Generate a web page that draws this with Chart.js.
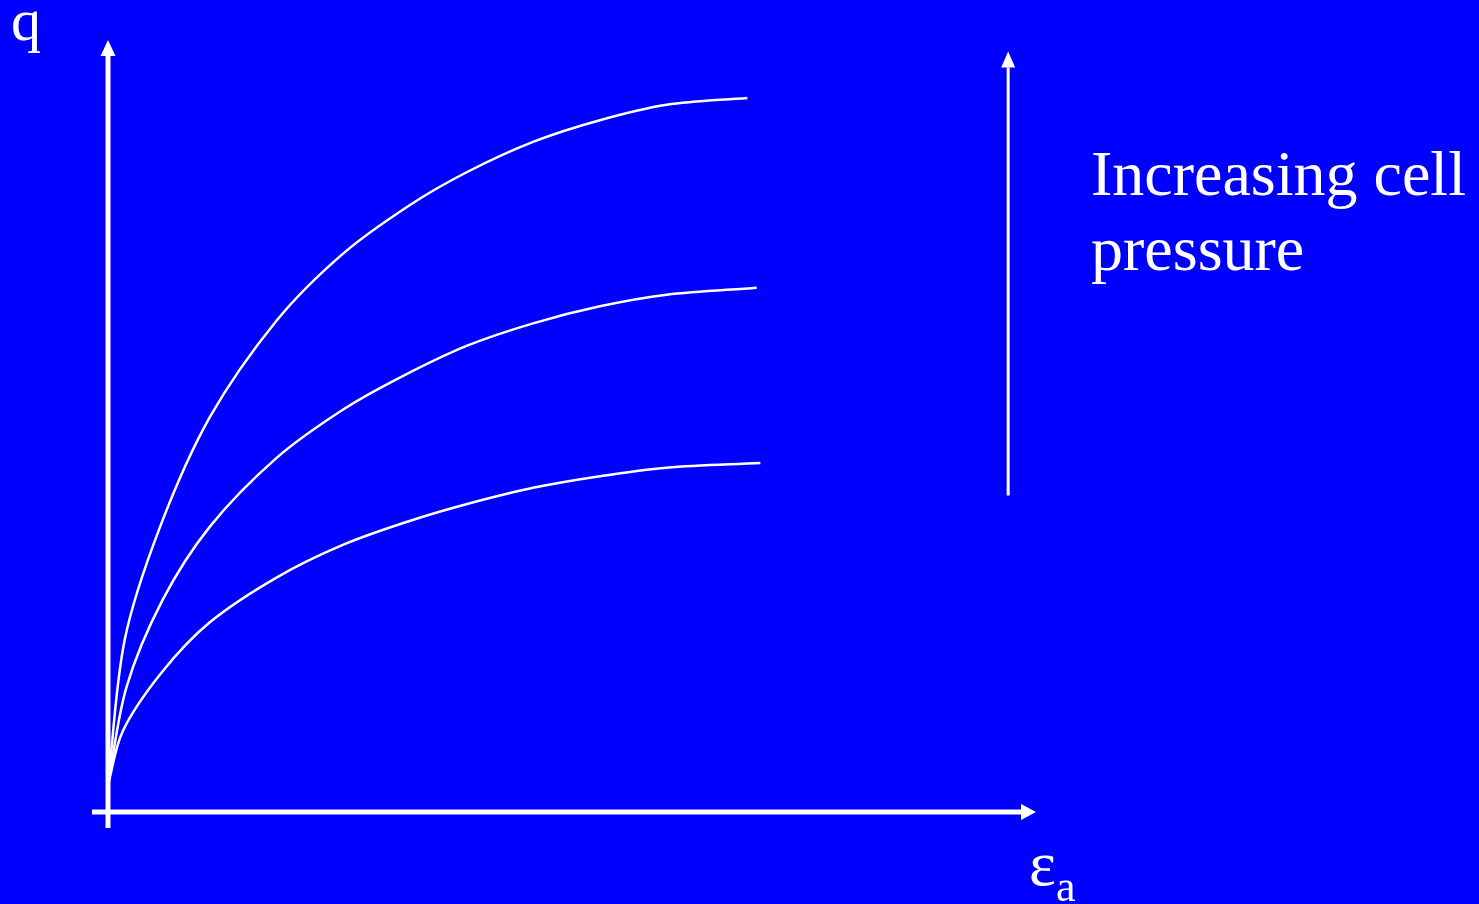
<!DOCTYPE html>
<html>
<head>
  <title>Deviator stress vs axial strain</title>
  <style>
    html, body { margin: 0; padding: 0; background: #0000ff; overflow: hidden; }
    #wrap { position: relative; width: 1479px; height: 904px; }
    canvas { position: absolute; left: 0; top: 0; }
    .lbl { position: absolute; color: #fff; font-family: "Liberation Serif", "Times New Roman", serif; white-space: nowrap; }
    #qLabel { left: 11px; top: -10px; font-size: 60px; line-height: 60px; }
    #epsLabel { left: 1029px; top: 832px; font-size: 64px; line-height: 64px; }
    #epsLabel sub { font-size: 44px; vertical-align: -16px; line-height: 44px; }
    #note { left: 1091px; top: 136px; font-size: 64px; line-height: 75px; }
  </style>
</head>
<body>
  <div id="wrap">
    <canvas id="curveChart" width="1479" height="904"></canvas>
    <div class="lbl" id="qLabel">q</div>
    <div class="lbl" id="epsLabel">ε<sub>a</sub></div>
    <div class="lbl" id="note">Increasing cell<br>pressure</div>
  </div>

  <script src="https://cdn.jsdelivr.net/npm/chart.js"></script>
  <script>
    // axial strain / deviator stress, three cell pressures (high -> low)
    const strainHigh = [0, 0.18, 0.56, 1.10, 1.82, 2.53, 3.25, 3.87, 4.58, 5.30, 6.02, 6.89];
    const qHigh      = [0.35, 2.23, 3.69, 5.12, 6.37, 7.23, 7.86, 8.29, 8.68, 8.96, 9.16, 9.25];

    const strainMid = [0, 0.20, 0.59, 1.10, 1.82, 2.53, 3.15, 3.87, 4.58, 5.30, 6.02, 6.99];
    const qMid      = [0.35, 1.62, 2.75, 3.70, 4.59, 5.21, 5.63, 6.04, 6.33, 6.55, 6.70, 6.79];

    const strainLow = [0, 0.16, 0.58, 1.10, 1.82, 2.53, 3.25, 3.87, 4.58, 5.30, 6.02, 7.03];
    const qLow      = [0.35, 1.05, 1.81, 2.46, 3.04, 3.46, 3.77, 3.99, 4.20, 4.35, 4.46, 4.52];

    // "increasing cell pressure" arrow
    const arrowX = 9.7;
    const arrowY = [4.1, 9.85];

    const axisMax = 10;

    function toPoints(xs, ys) {
      return xs.map((x, i) => ({ x: x, y: ys[i] }));
    }

    function drawArrow(ctx, x1, y1, x2, y2, width, headLen, headHalf) {
      const ang = Math.atan2(y2 - y1, x2 - x1);
      const bx = x2 - headLen * Math.cos(ang);
      const by = y2 - headLen * Math.sin(ang);
      ctx.strokeStyle = "#fff";
      ctx.fillStyle = "#fff";
      ctx.lineWidth = width;
      ctx.lineCap = "butt";
      ctx.beginPath();
      ctx.moveTo(x1, y1);
      ctx.lineTo(bx, by);
      ctx.stroke();
      ctx.beginPath();
      ctx.moveTo(x2, y2);
      ctx.lineTo(bx + headHalf * Math.sin(ang), by - headHalf * Math.cos(ang));
      ctx.lineTo(bx - headHalf * Math.sin(ang), by + headHalf * Math.cos(ang));
      ctx.closePath();
      ctx.fill();
    }

    const arrowAxes = {
      id: "arrowAxes",
      afterDatasetsDraw(chart) {
        const ctx = chart.ctx;
        const xs = chart.scales.x, ys = chart.scales.y;
        const x0 = xs.getPixelForValue(0), y0 = ys.getPixelForValue(0);
        ctx.save();
        // q axis, running a little below the origin
        drawArrow(ctx, x0, y0 + 16, x0, ys.getPixelForValue(axisMax), 5, 16, 7.5);
        // strain axis, running a little left of the origin
        drawArrow(ctx, x0 - 16, y0, xs.getPixelForValue(axisMax), y0, 5, 15, 8);
        // cell pressure arrow
        const ax = xs.getPixelForValue(arrowX);
        drawArrow(ctx, ax, ys.getPixelForValue(arrowY[0]), ax, ys.getPixelForValue(arrowY[1]), 3, 16, 7);
        ctx.restore();
      }
    };

    const curveStyle = {
      showLine: true,
      borderColor: "#ffffff",
      borderWidth: 2.5,
      pointRadius: 0,
      fill: false,
      tension: 0.33
    };

    new Chart(document.getElementById("curveChart").getContext("2d"), {
      type: "scatter",
      data: {
        datasets: [
          Object.assign({ label: "high", data: toPoints(strainHigh, qHigh) }, curveStyle),
          Object.assign({ label: "mid", data: toPoints(strainMid, qMid) }, curveStyle),
          Object.assign({ label: "low", data: toPoints(strainLow, qLow) }, curveStyle)
        ]
      },
      options: {
        responsive: false,
        animation: false,
        layout: { padding: { left: 108, right: 443, top: 40, bottom: 92 } },
        plugins: { legend: { display: false }, tooltip: { enabled: false } },
        scales: {
          x: { type: "linear", min: 0, max: axisMax, display: false },
          y: { type: "linear", min: 0, max: axisMax, display: false }
        }
      },
      plugins: [arrowAxes]
    });
  </script>
</body>
</html>
